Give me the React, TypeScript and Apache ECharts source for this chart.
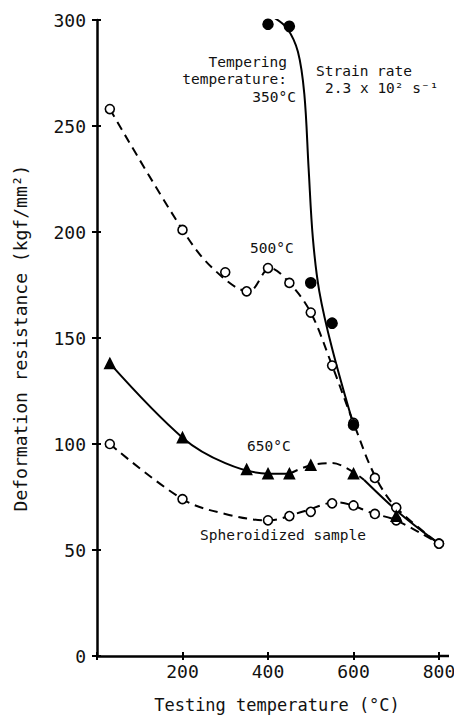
import React, { useEffect, useRef } from "react";
import * as echarts from "echarts";

// Measured points (testing temperature °C, deformation resistance kgf/mm²)
const pts350: number[][] = [[400, 298], [450, 297], [500, 176], [550, 157], [600, 109]];
const pts500: number[][] = [[30, 258], [200, 201], [300, 181], [350, 172], [400, 183], [450, 176], [500, 162], [550, 137], [600, 110], [650, 84], [700, 70], [800, 53]];
const pts650: number[][] = [[30, 138], [200, 103], [350, 88], [400, 86], [450, 86], [500, 90], [600, 86], [700, 66]];
const ptsSph: number[][] = [[30, 100], [200, 74], [400, 64], [450, 66], [500, 68], [550, 72], [600, 71], [650, 67], [700, 64], [800, 53]];

// Fitted curves as drawn in the figure
const curve350: number[][] = [[415, 301], [445, 296], [470, 285], [485, 265], [495, 230], [505, 197], [520, 172], [550, 145], [600, 109]];
const curve500: number[][] = [[30, 258], [200, 201], [270, 183], [355, 172], [405, 183], [450, 176], [500, 162], [550, 137], [600, 110], [650, 85], [700, 70], [800, 53]];
const curve650Solid: number[][] = [[30, 138], [200, 103], [300, 91], [400, 86], [450, 86]];
const curve650Dash: number[][] = [[450, 86], [500, 90], [550, 91], [625, 83]];
const curve650Tail: number[][] = [[625, 83], [710, 67], [800, 53]];
const curveSph: number[][] = [[30, 100], [200, 74], [300, 67], [400, 64], [480, 68], [560, 72.5], [650, 67], [700, 64], [800, 53]];

const xTicks = [0, 200, 400, 600, 800];
const yTicks = [0, 50, 100, 150, 200, 250, 300];

const MONO = "'DejaVu Sans Mono', 'Liberation Mono', monospace";

export default function App() {
  const ref = useRef<HTMLDivElement>(null);
  useEffect(() => {
    document.body.style.margin = "0";
    if (!ref.current) return;
    const chart = echarts.init(ref.current, null, { renderer: "svg" });
    const dashed = { color: "#000", width: 2, type: [9, 6] as any };
    const solid = { color: "#000", width: 2, type: "solid" as any };
    const curve = (data: number[][], ls: any) => ({
      type: "line",
      data,
      smooth: 0.35,
      symbol: "none",
      showSymbol: false,
      lineStyle: ls,
      z: 2,
      silent: true,
    });
    const marks = (data: number[][], symbol: string, size: number, fill: string) => ({
      type: "scatter",
      data,
      symbol,
      symbolSize: size,
      itemStyle: { color: fill, borderColor: "#000", borderWidth: 1.6, opacity: 1 },
      z: 3,
    });
    const text = (t: string, x: number, y: number, align: string) => ({
      type: "text",
      x,
      y,
      style: { text: t, fill: "#111", font: `14.5px ${MONO}`, align, verticalAlign: "middle" },
    });
    chart.setOption({
      animation: false,
      backgroundColor: "#fff",
      grid: { left: 97, right: 15, top: 20, bottom: 59, containLabel: false, outerBoundsMode: "none" },
      xAxis: [
        {
          type: "value",
          min: xTicks[0],
          max: xTicks[xTicks.length - 1],
          interval: 200,
          name: "Testing temperature (°C)",
          nameLocation: "middle",
          nameGap: 40,
          nameTextStyle: { fontFamily: MONO, fontSize: 17, color: "#111", padding: [0, 0, 0, 18] },
          axisLine: { lineStyle: { color: "#000", width: 2.5 } },
          axisTick: { show: true, length: 4, lineStyle: { color: "#000", width: 2 } },
          axisLabel: {
            fontFamily: MONO,
            fontSize: 18,
            color: "#111",
            margin: 6,
            formatter: (v: number) => (v === 0 ? "" : String(v)),
          },
          splitLine: { show: false },
        },
        {
          type: "value",
          position: "bottom",
          min: xTicks[0],
          max: xTicks[xTicks.length - 1],
          interval: 200,
          axisLine: { show: false },
          axisTick: { show: true, inside: true, length: 4, lineStyle: { color: "#000", width: 2 } },
          axisLabel: { show: false },
          splitLine: { show: false },
        },
      ],
      yAxis: [
        {
          type: "value",
          min: yTicks[0],
          max: yTicks[yTicks.length - 1],
          interval: 50,
          name: "Deformation resistance (kgf/mm²)",
          nameLocation: "middle",
          nameGap: 68,
          nameTextStyle: { fontFamily: MONO, fontSize: 18, color: "#111" },
          axisLine: { lineStyle: { color: "#000", width: 2.5 } },
          axisTick: { show: true, length: 5, lineStyle: { color: "#000", width: 2 } },
          axisLabel: { fontFamily: MONO, fontSize: 18, color: "#111", margin: 11 },
          splitLine: { show: false },
        },
        {
          type: "value",
          position: "left",
          min: yTicks[0],
          max: yTicks[yTicks.length - 1],
          interval: 50,
          axisLine: { show: false },
          axisTick: { show: true, inside: true, length: 4, lineStyle: { color: "#000", width: 2 } },
          axisLabel: { show: false },
          splitLine: { show: false },
        },
      ],
      series: [
        curve(curve350, solid),
        curve(curve500, dashed),
        curve(curve650Solid, solid),
        curve(curve650Dash, dashed),
        curve(curve650Tail, solid),
        curve(curveSph, dashed),
        marks(pts500, "circle", 9, "#fff"),
        marks(ptsSph, "circle", 9, "#fff"),
        marks(pts350, "circle", 10, "#000"),
        marks(pts650, "triangle", 10, "#000"),
      ],
      graphic: [
        text("Tempering", 287, 62, "right"),
        text("temperature:", 287, 79, "right"),
        text("350°C", 296, 97, "right"),
        text("Strain rate", 316, 71, "left"),
        text("2.3 x 10² s⁻¹", 325, 88, "left"),
        text("500°C", 250, 248, "left"),
        text("650°C", 247, 446, "left"),
        text("Spheroidized sample", 200, 535, "left"),
        {
          type: "line",
          shape: { x1: 439, y1: 656, x2: 449, y2: 656 },
          style: { stroke: "#000", lineWidth: 2.5 },
        },
      ],
    });
    return () => chart.dispose();
  }, []);
  return <div ref={ref} style={{ width: 454, height: 715 }} />;
}
